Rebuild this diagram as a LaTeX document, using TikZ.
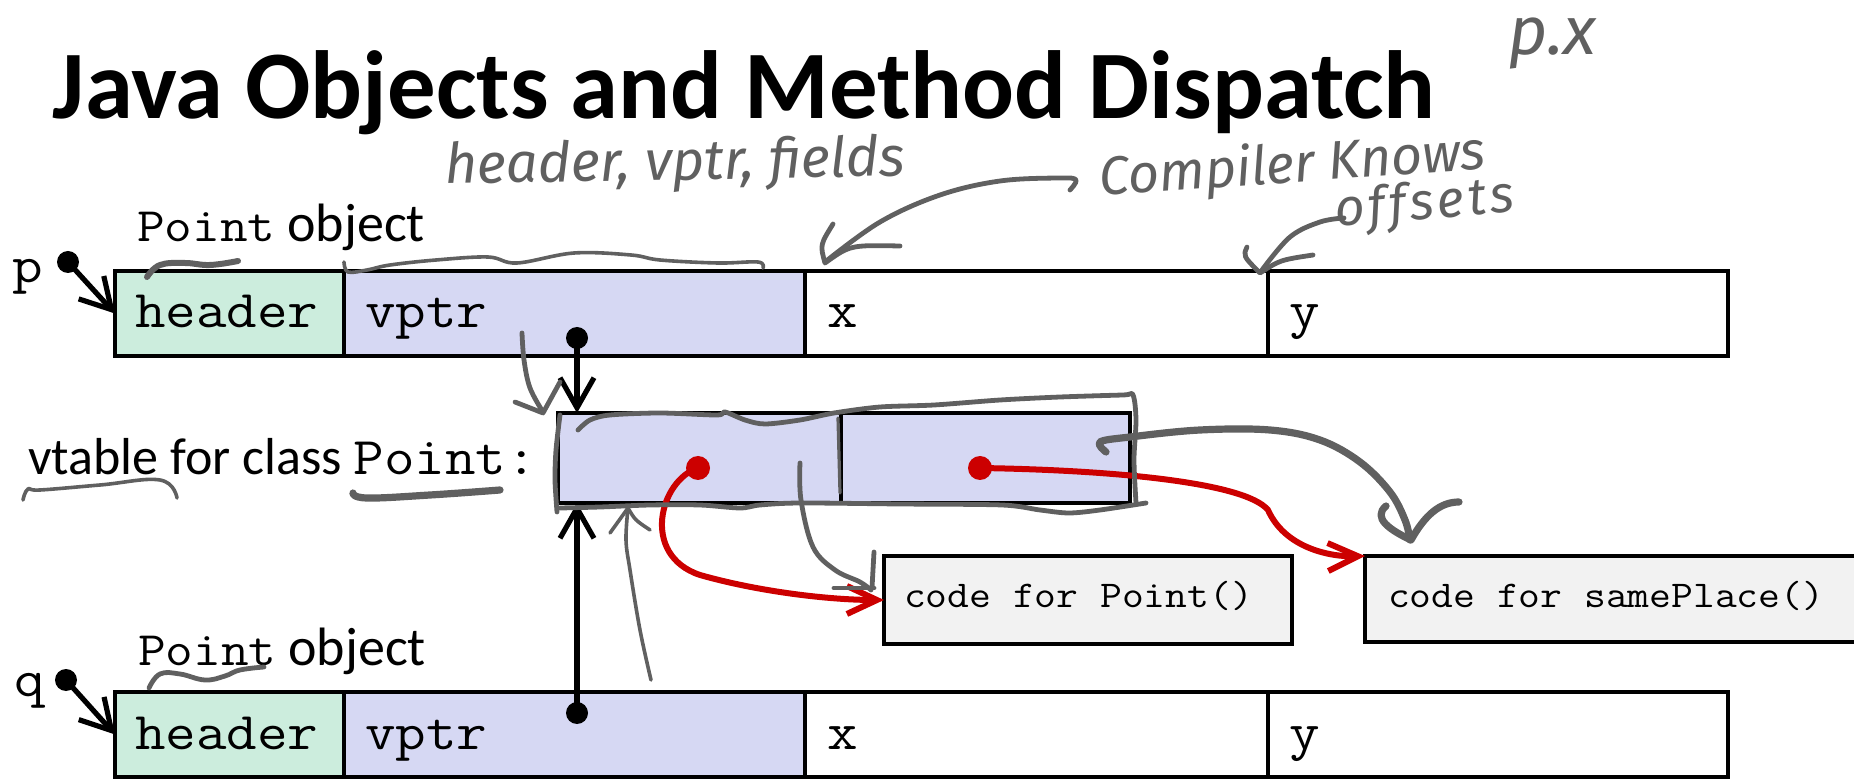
\documentclass[tikz,border=0pt]{standalone}
\usepackage{fontspec}
\setmainfont{Carlito}
\newfontfamily\cour{Latin Modern Mono}[FakeStretch=1.12]
\newfontfamily\hand{Fira Sans}
\usetikzlibrary{arrows.meta,fit}
\definecolor{hdrgreen}{RGB}{204,237,221}
\definecolor{vlav}{RGB}{214,216,243}
\definecolor{codegray}{RGB}{242,242,242}
\definecolor{inkgray}{RGB}{96,96,96}
\definecolor{ptrred}{RGB}{204,0,0}
\tikzset{
  cell/.style={draw=black, line width=2.2pt, inner sep=0pt, outer sep=0pt},
  txt/.style={anchor=base west, inner sep=0pt, outer sep=0pt},
  dot/.style={circle, fill=black, inner sep=0pt, minimum size=11pt},
  reddot/.style={circle, fill=ptrred, inner sep=0pt, minimum size=12pt},
  ptr/.style={line width=2.6pt, -{Straight Barb[length=15pt,width=17pt,line width=2.6pt]}},
  redptr/.style={draw=ptrred, line width=3pt, -{Straight Barb[length=15pt,width=14pt,line width=3pt]}},
  ink/.style={draw=inkgray, line width=2.4pt, line cap=round, line join=round},
  thickink/.style={ink, line width=3.6pt},
  note/.style={inner sep=0pt, text=inkgray, anchor=base west, text height=0.55em, text depth=0.1em},
}
\newcommand{\monosz}[1]{\cour\fontsize{#1}{#1}\selectfont}
\newcommand{\sanssz}[1]{\rmfamily\fontsize{#1}{#1}\selectfont}
\newcommand{\handsz}[1]{\hand\itshape\fontsize{#1}{#1}\selectfont}
\begin{document}
\begin{tikzpicture}[x=0.5pt,y=-0.5pt]
\useasboundingbox (0,0) rectangle (1854,780);
\clip (0,0) rectangle (1854,780);

% title
\node[txt] (title) at (53,119) {\sanssz{48.4pt}\bfseries Java Objects and Method Dispatch};

% ---------- object p ----------
\node[txt] (plabel) at (137,242) {\monosz{24pt}Point\hspace{0.25em}\sanssz{27pt}object};
\node[txt] (pname) at (12,283) {\monosz{26.5pt}p};
\node[cell, fill=hdrgreen, fit={(115,271)(344,356)}] (phdr) {};
\node[cell, fill=vlav, fit={(344,271)(805,356)}] (pvptr) {};
\node[cell, fill=white, fit={(805,271)(1268,356)}] (px) {};
\node[cell, fill=white, fit={(1268,271)(1728,356)}] (py) {};
\node[txt] at (135,328) {\monosz{26.5pt}header};
\node[txt] at (365,328) {\monosz{26.5pt}vptr};
\node[txt] at (827,328) {\monosz{26.5pt}x};
\node[txt] at (1289,328) {\monosz{26.5pt}y};

% ---------- object q ----------
\node[txt] (qlabel) at (138,665) {\monosz{24pt}Point\hspace{0.25em}\sanssz{27pt}object};
\node[txt] (qname) at (14,697) {\monosz{26.5pt}q};
\node[cell, fill=hdrgreen, fit={(115,692)(344,777)}] (qhdr) {};
\node[cell, fill=vlav, fit={(344,692)(805,777)}] (qvptr) {};
\node[cell, fill=white, fit={(805,692)(1268,777)}] (qx) {};
\node[cell, fill=white, fit={(1268,692)(1728,777)}] (qy) {};
\node[txt] at (135,749) {\monosz{26.5pt}header};
\node[txt] at (365,749) {\monosz{26.5pt}vptr};
\node[txt] at (827,749) {\monosz{26.5pt}x};
\node[txt] at (1289,749) {\monosz{26.5pt}y};

% ---------- vtable ----------
\node[txt] (vtlabel) at (28,475) {\sanssz{26pt}vtable for class \monosz{26.5pt}Point:};
\node[cell, fill=vlav, fit={(558,413)(841,503)}] (vt1) {};
\node[cell, fill=vlav, fit={(841,413)(1130,503)}] (vt2) {};

% ---------- code blocks ----------
\node[cell, fill=codegray, fit={(884,556)(1292,644)}] (pc) {};
\node[txt] at (904,608) {\monosz{18.9pt}code for Point()};
\node[cell, fill=codegray, fit={(1365,556)(1890,642)}] (sp) {};
\node[txt] at (1388,608) {\monosz{18.9pt}code for samePlace()};

% ---------- pointers ----------
\node[dot] (pdot) at (68,262) {};
\node[dot] (qdot) at (66,680) {};
\draw[ptr] (pdot.center) -- (phdr.west);
\draw[ptr] (qdot.center) -- (qhdr.west);

\node[dot] (pv) at (577,338) {};
\node[dot] (qv) at (577,713) {};
\draw[ptr] (pv.center) -- (pv.center |- vt1.north);
\draw[ptr] (qv.center) -- (qv.center |- vt1.south);

\node[reddot] (m1) at (698,468) {};
\node[reddot] (m2) at (980,468) {};
\draw[redptr] (m1.center) .. controls (660,480) and (640,555) .. (700,575)
  .. controls (760,592) and (830,600) .. (pc.west);
\draw[redptr] (m2.center) .. controls (1110,470) and (1245,482) .. (1268,510)
  .. controls (1285,548) and (1330,557) .. (sp.north west);

% ---------- pen annotations ----------
\node[note, rotate=1] (n1) at (445,184) {\handsz{28pt}header, vptr, fields};
\node[note, rotate=4] (n2) at (1100,196) {\handsz{27pt}Compiler Knows};
\node[note, rotate=5] (n3) at (1336,227) {\handsz{26pt}o\kern.07em f\kern.07em f\kern.07em s\kern.07em e\kern.07em t\kern.07em s};
\node[note] (n4) at (1508,55) {\handsz{34pt}p.x};

% squiggles over the fields
\draw[ink, line width=3pt] plot[smooth, tension=0.7] coordinates {(147,277) (160,265) (185,263) (210,265) (238,261)};
\draw[ink, line width=1.8pt] plot[smooth, tension=0.6] coordinates {(344,262) (348,272) (367,270) (390,265) (436,260) (488,257) (517,263) (574,253) (631,255) (660,260) (718,263) (758,262) (763,268)};
\draw[ink] plot[smooth, tension=0.7] coordinates {(149,688) (160,674) (180,674) (205,680) (225,676) (240,670) (264,667)};
\draw[ink, line width=1.8pt] plot[smooth, tension=0.7] coordinates {(23,500) (28,489) (40,490) (100,485) (160,480) (177,498)};
\draw[thickink] plot[smooth, tension=0.7] coordinates {(353,493) (367,498) (430,495) (500,490)};

% "compiler knows offsets" arrows
\draw[ink] plot[smooth, tension=0.6] coordinates {(1070,190) (1076,180) (1060,178) (1000,181) (940,195) (880,222) (825,262)};
\draw[ink] (833,224) .. controls (820,245) .. (825,263) .. controls (850,245) .. (900,246);
\draw[ink] plot[smooth, tension=0.6] coordinates {(1344,218) (1320,222) (1290,237) (1262,270)};
\draw[ink] (1247,247) .. controls (1243,256) .. (1260,273) .. controls (1280,260) .. (1313,255);

% vptr -> vtable
\draw[ink] plot[smooth, tension=0.6] coordinates {(522,333) (524,360) (530,388) (543,412)};
\draw[ink] (515,402) -- (543,413) -- (560,382);

% outline round the vtable
\draw[ink] plot[smooth, tension=0.5] coordinates {(560,415) (556,450) (555,480) (557,512)};
\draw[ink] plot[smooth, tension=0.5] coordinates {(578,430) (590,420) (610,415) (660,413) (717,415) (725,412) (745,420) (765,424) (800,420) (834,413) (880,407) (934,405) (1000,400) (1060,397) (1123,395) (1133,395) (1136,420) (1134,460) (1136,503)};
\draw[ink] plot[smooth, tension=0.5] coordinates {(560,508) (600,507) (650,505) (700,505) (740,508) (760,505) (800,503) (900,504) (1002,505) (1040,510) (1069,513) (1100,510) (1146,503)};
\draw[ink, line width=1.6pt] (838,418) -- (840,493);

% vtable entry -> samePlace
\draw[thickink] plot[smooth, tension=0.6] coordinates {(1106,452) (1100,442) (1130,437) (1200,430) (1270,430) (1320,440) (1360,462) (1390,492) (1405,520) (1410,540)};
\draw[thickink] (1386,506) .. controls (1372,518) and (1390,530) .. (1411,540) .. controls (1425,515) and (1440,502) .. (1459,502);

% vtable entry -> Point()
\draw[ink] plot[smooth, tension=0.6] coordinates {(800,463) (801,500) (813,547) (835,570) (860,582) (871,590)};
\draw[ink] (834,588) -- (874,588);
\draw[ink] (874,552) -- (872,588);

% q's vptr side note
\draw[ink, line width=1.8pt] plot[smooth, tension=0.6] coordinates {(651,680) (640,630) (630,570) (626,540) (628,508)};
\draw[ink, line width=1.8pt] (610,533) -- (628,508) .. controls (635,520) .. (650,530);
\end{tikzpicture}
\end{document}
